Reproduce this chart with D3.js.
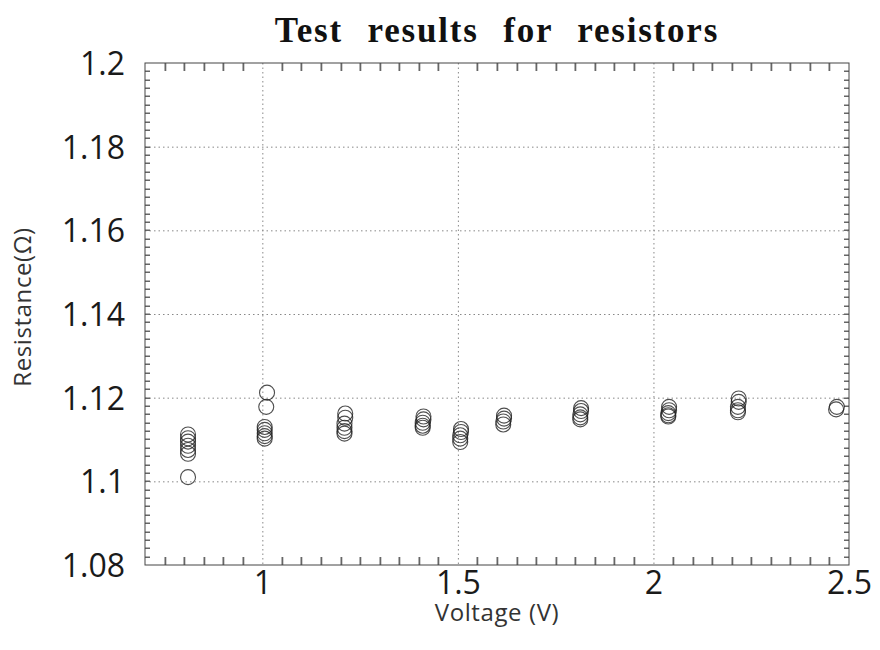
<!DOCTYPE html>
<html>
<head>
<meta charset="utf-8">
<script src="https://cdn.jsdelivr.net/npm/d3@7"></script>
<style>
  body { margin: 0; background: #fff; }
  .tick-label { font-family: "Open Sans", sans-serif; font-size: 32px; fill: #1a1a1a; }
  .axis-title { font-family: "Open Sans", sans-serif; font-size: 24px; fill: #333; letter-spacing: 0.6px; }
  .title { font-family: "Liberation Serif", serif; font-weight: bold; font-size: 35px; fill: #111; letter-spacing: 1.8px; word-spacing: 14px; }
</style>
</head>
<body>
<svg id="chart" width="880" height="650"></svg>
<script>
(function () {
    // measured voltage (V) and resistance (ohm) for every test point
    var voltage = [
        0.81, 0.81, 0.81, 0.81, 0.81, 0.81, 0.81,
        1.012, 1.01, 1.006, 1.006, 1.006, 1.006, 1.006,
        1.212, 1.212, 1.21, 1.21, 1.21, 1.21,
        1.412, 1.412, 1.41, 1.41, 1.41,
        1.508, 1.508, 1.506, 1.506, 1.506,
        1.618, 1.618, 1.616, 1.616,
        1.815, 1.815, 1.813, 1.813, 1.813,
        2.04, 2.04, 2.038, 2.038, 2.038,
        2.218, 2.218, 2.216, 2.216, 2.216,
        2.469, 2.467
    ]
    var resistance = [
        1.1112, 1.1103, 1.1095, 1.1085, 1.1075, 1.1066, 1.1010,
        1.1212, 1.1178, 1.1130, 1.1123, 1.1115, 1.1108, 1.1102,
        1.1162, 1.1152, 1.1138, 1.1128, 1.1120, 1.1114,
        1.1155, 1.1148, 1.1140, 1.1133, 1.1128,
        1.1125, 1.1118, 1.1110, 1.1102, 1.1094,
        1.1157, 1.1150, 1.1143, 1.1136,
        1.1175, 1.1168, 1.1160, 1.1153, 1.1148,
        1.1178, 1.1170, 1.1163, 1.1158, 1.1155,
        1.1198, 1.1190, 1.1178, 1.1170, 1.1165,
        1.1178, 1.1172
    ]
    var xTicks = [1, 1.5, 2, 2.5]
    var yTicks = [1.08, 1.1, 1.12, 1.14, 1.16, 1.18, 1.2]
    var xMinorTicks = [0.75, 0.8, 0.85, 0.9, 0.95, 1.05, 1.1, 1.15, 1.2, 1.25, 1.3, 1.35, 1.4, 1.45,
        1.55, 1.6, 1.65, 1.7, 1.75, 1.8, 1.85, 1.9, 1.95, 2.05, 2.1, 2.15, 2.2, 2.25, 2.3, 2.35, 2.4, 2.45]

    var left = 145, right = 849, top = 63, bottom = 565
    var width = right - left, height = bottom - top

    var x = d3.scaleLinear().domain([0.7, 2.5]).range([0, width])
    var y = d3.scaleLinear().domain([1.08, 1.2]).range([height, 0])

    var svg = d3.select("#chart")
    var chart = svg.append("g").attr("transform", `translate(${left}, ${top})`)

    //dotted grid at the major ticks
    chart.append("g")
        .call(d3.axisBottom(x).tickValues(xTicks.filter(d => d < 2.5)).tickSize(height).tickFormat(""))
        .call(g => g.select(".domain").remove())
        .selectAll("line").attr("stroke", "#888").attr("stroke-dasharray", "1.5,3")
    chart.append("g")
        .call(d3.axisLeft(y).tickValues(yTicks.filter(d => d > 1.08 && d < 1.2)).tickSize(-width).tickFormat(""))
        .call(g => g.select(".domain").remove())
        .selectAll("line").attr("stroke", "#888").attr("stroke-dasharray", "1.5,3")

    //minor ticks on x (bottom pointing up, top pointing down)
    var ticks = chart.append("g").attr("fill", "#666")
    ticks.append("g")
        .selectAll("rect")
        .data(xMinorTicks)
        .join("rect")
        .attr("x", d => Math.round(x(d)) - 0.5)
        .attr("y", height - 8)
        .attr("width", 1.8)
        .attr("height", 8)
    ticks.append("g")
        .selectAll("rect")
        .data(xMinorTicks)
        .join("rect")
        .attr("x", d => Math.round(x(d)) - 0.5)
        .attr("y", 0)
        .attr("width", 1.8)
        .attr("height", 8)

    //minor ticks on y, every 0.002
    var yMinor = d3.range(541, 600).map(d => d / 500)
    ticks.append("g")
        .selectAll("rect")
        .data(yMinor)
        .join("rect")
        .attr("x", 0)
        .attr("y", d => Math.round(y(d)) - 0.5)
        .attr("width", 5)
        .attr("height", 1.5)
    ticks.append("g")
        .selectAll("rect")
        .data(yMinor)
        .join("rect")
        .attr("x", width - 5)
        .attr("y", d => Math.round(y(d)) - 0.5)
        .attr("width", 5)
        .attr("height", 1.5)

    //frame
    chart.append("rect")
        .attr("width", width).attr("height", height)
        .attr("fill", "none").attr("stroke", "#444").attr("stroke-width", 1)

    //tick labels
    chart.append("g")
        .attr("transform", `translate(0, ${height})`)
        .call(d3.axisBottom(x).tickValues(xTicks).tickSize(0).tickPadding(0).tickFormat(d3.format("")))
        .call(g => g.select(".domain").remove())
        .selectAll("text").attr("class", "tick-label").attr("dy", "0").attr("y", 29)
    chart.append("g")
        .call(d3.axisLeft(y).tickValues(yTicks).tickSize(0).tickPadding(20).tickFormat(d3.format("")))
        .call(g => g.select(".domain").remove())
        .selectAll("text").attr("class", "tick-label").attr("dy", "0.36em")

    //data points
    chart.append("g")
        .selectAll("circle")
        .data(voltage)
        .join("circle")
        .attr("cx", d => x(d))
        .attr("cy", (d, i) => y(resistance[i]))
        .attr("r", 7.5)
        .attr("fill", "none")
        .attr("stroke", "#222")
        .attr("stroke-width", 1.1)
        .attr("stroke-opacity", 0.8)

    //titles
    svg.append("text").attr("class", "title")
        .attr("x", 497).attr("y", 42).attr("text-anchor", "middle")
        .text("Test results for resistors")
    svg.append("text").attr("class", "axis-title")
        .attr("x", 497).attr("y", 621).attr("text-anchor", "middle")
        .text("Voltage (V)")
    svg.append("text").attr("class", "axis-title")
        .attr("transform", "translate(31, 307) rotate(-90)").attr("text-anchor", "middle")
        .text("Resistance(Ω)")
})();
</script>
</body>
</html>
